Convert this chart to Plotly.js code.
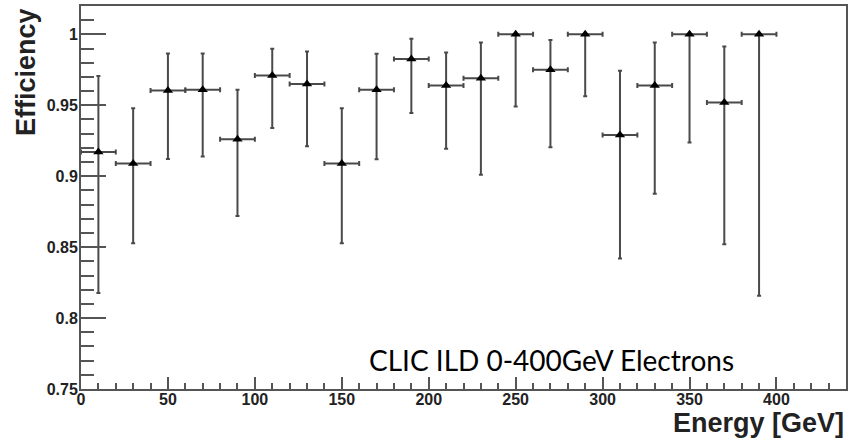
<!DOCTYPE html>
<html>
<head>
<meta charset="utf-8">
<script src="https://cdn.plot.ly/plotly-3.0.1.min.js"></script>
<style>html,body{margin:0;padding:0;background:#fff;}#chart{width:856px;height:440px;}</style>
</head>
<body>
<div id="chart"></div>
<script>
const energy = [10, 30, 50, 70, 90, 110, 130, 150, 170, 190, 210, 230, 250, 270, 290, 310, 330, 350, 370, 390];
const binHalfWidth = [10, 10, 10, 10, 10, 10, 10, 10, 10, 10, 10, 10, 10, 10, 10, 10, 10, 10, 10, 10];
const efficiency = [0.917, 0.909, 0.9605, 0.961, 0.926, 0.971, 0.965, 0.909, 0.961, 0.9826, 0.964, 0.969, 1.0, 0.975, 1.0, 0.929, 0.964, 1.0, 0.952, 1.0];
const errUpper = [0.9706, 0.948, 0.9865, 0.9865, 0.961, 0.9898, 0.9879, 0.948, 0.9863, 0.997, 0.9872, 0.9942, 1.0, 0.9961, 1.0, 0.9743, 0.9942, 1.0, 0.9914, 1.0];
const errLower = [0.8176, 0.8527, 0.9122, 0.9139, 0.872, 0.934, 0.9211, 0.8527, 0.912, 0.9446, 0.9193, 0.901, 0.9492, 0.9204, 0.9563, 0.842, 0.8876, 0.9237, 0.852, 0.8157];
const xTickVals = [0, 50, 100, 150, 200, 250, 300, 350, 400];
const xTickText = ["0", "50", "100", "150", "200", "250", "300", "350", "400"];
const yTickVals = [0.75, 0.8, 0.85, 0.9, 0.95, 1];
const yTickText = ["0.75", "0.8", "0.85", "0.9", "0.95", "1"];

const plus = efficiency.map((v, i) => errUpper[i] - v);
const minus = efficiency.map((v, i) => v - errLower[i]);

const axisColor = '#555555';
const barColor = '#4a4a4a';

const trace = {
  x: energy,
  y: efficiency,
  type: 'scatter',
  mode: 'markers',
  marker: {symbol: 'triangle-up', size: 9, color: '#000000'},
  error_y: {type: 'data', symmetric: false, array: plus, arrayminus: minus, color: barColor, thickness: 2, width: 2},
  error_x: {type: 'data', array: binHalfWidth, color: barColor, thickness: 2, width: 2.5},
  showlegend: false,
  hoverinfo: 'x+y'
};

const tickFont = {family: 'Liberation Sans, Arial, sans-serif', size: 16, color: '#222222', weight: 700};
const bold = s => '<b>' + s + '</b>';

const layout = {
  width: 856,
  height: 440,
  margin: {l: 81, r: 10, t: 6, b: 51},
  paper_bgcolor: '#ffffff',
  plot_bgcolor: '#ffffff',
  xaxis: {
    range: [0, 440],
    tickvals: xTickVals,
    ticktext: xTickText.map(bold),
    ticks: 'inside',
    ticklen: 12,
    tickwidth: 2,
    tickcolor: axisColor,
    minor: {dtick: 10, tick0: 0, ticks: 'inside', ticklen: 6, tickwidth: 2, tickcolor: axisColor, showgrid: false},
    showline: true,
    linecolor: axisColor,
    linewidth: 2,
    mirror: true,
    showgrid: false,
    zeroline: false,
    tickfont: tickFont,
    ticklabelstandoff: -5,
    title: {text: ''}
  },
  yaxis: {
    range: [0.75, 1.02],
    tickvals: yTickVals,
    ticktext: yTickText.map(bold),
    ticks: 'inside',
    ticklen: 25,
    tickwidth: 2,
    tickcolor: axisColor,
    minor: {dtick: 0.01, tick0: 0.75, ticks: 'inside', ticklen: 13, tickwidth: 2, tickcolor: axisColor, showgrid: false},
    showline: true,
    linecolor: axisColor,
    linewidth: 2,
    mirror: true,
    showgrid: false,
    zeroline: false,
    tickfont: tickFont,
    ticklabelstandoff: -2,
    title: {text: ''}
  },
  annotations: [
    {
      text: 'CLIC ILD 0-400GeV Electrons',
      xref: 'paper', yref: 'paper',
      x: 0.374, y: 0.0757,
      xanchor: 'left', yanchor: 'middle',
      showarrow: false,
      font: {family: 'Lato, Open Sans, sans-serif', size: 28, color: '#000000'}
    },
    {
      text: '<b>Efficiency</b>',
      xref: 'paper', yref: 'paper',
      x: -0.072, y: 1.0,
      xanchor: 'center', yanchor: 'top',
      textangle: -90,
      showarrow: false,
      font: {family: 'Liberation Sans, Arial, sans-serif', size: 27, color: '#222222'}
    },
    {
      text: '<b>Energy [GeV]</b>',
      xref: 'paper', yref: 'paper',
      x: 1.0, y: -0.044,
      xanchor: 'right', yanchor: 'top',
      showarrow: false,
      font: {family: 'Liberation Sans, Arial, sans-serif', size: 27, color: '#222222'}
    }
  ]
};

Plotly.newPlot('chart', [trace], layout, {displayModeBar: false, staticPlot: true});
</script>
</body>
</html>
